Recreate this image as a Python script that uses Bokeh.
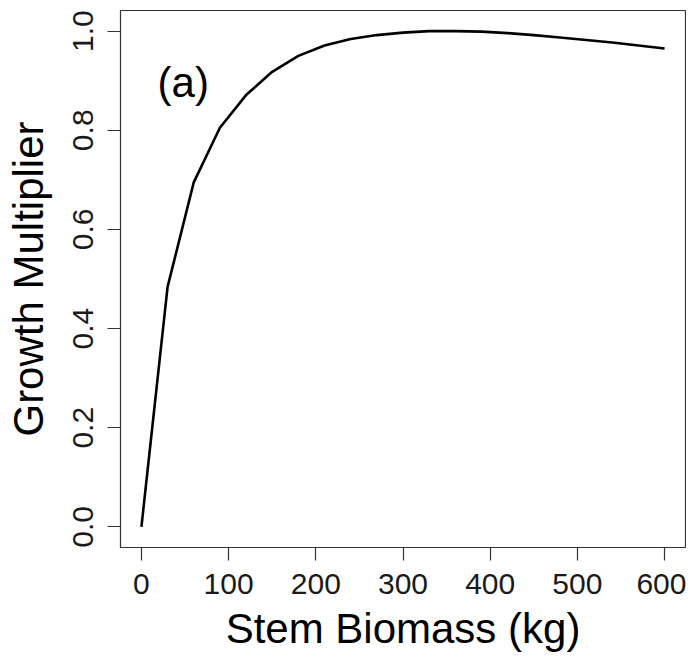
import math
from bokeh.plotting import figure
from bokeh.models import Range1d, FixedTicker, Label
from bokeh.embed import file_html
from bokeh.resources import INLINE

# Data
stem_biomass = [0, 30, 60, 90, 120, 150, 180, 210, 240, 270, 300,
                330, 360, 390, 420, 450, 480, 510, 540, 570, 600]
growth_multiplier = [0.0, 0.484, 0.695, 0.805, 0.871, 0.918, 0.950, 0.971,
                     0.984, 0.992, 0.997, 1.000, 1.000, 0.999, 0.996, 0.992,
                     0.987, 0.982, 0.977, 0.971, 0.965]
x_ticks = [0, 100, 200, 300, 400, 500, 600]
y_ticks = [0.0, 0.2, 0.4, 0.6, 0.8, 1.0]
y_tick_labels = {0.0: "0.0", 0.2: "0.2", 0.4: "0.4", 0.6: "0.6", 0.8: "0.8", 1.0: "1.0"}

FONT = "Liberation Sans"

p = figure(width=686, height=654, output_backend="svg", toolbar_location=None,
           x_range=Range1d(-24, 624), y_range=Range1d(-0.0416, 1.0416),
           min_border_left=120, min_border_right=1, min_border_top=10,
           min_border_bottom=103)
p.grid.visible = False
p.background_fill_color = "white"
p.border_fill_color = "white"
p.outline_line_color = "#333333"
p.outline_line_width = 1.2

p.line(stem_biomass, growth_multiplier, line_color="black", line_width=2.6)

for ax in (p.xaxis[0], p.yaxis[0]):
    ax.axis_line_color = None
    ax.major_tick_line_color = "#333333"
    ax.major_tick_line_width = 1.2
    ax.major_tick_out = 13
    ax.major_tick_in = 0
    ax.minor_tick_line_color = None
    ax.major_label_text_font = FONT
    ax.major_label_text_font_size = "30px"
    ax.major_label_text_color = "#1a1a1a"
    ax.axis_label_text_font = FONT
    ax.axis_label_text_font_size = "42px"
    ax.axis_label_text_font_style = "normal"
    ax.axis_label_text_color = "black"

p.xaxis.ticker = FixedTicker(ticks=x_ticks)
p.yaxis.ticker = FixedTicker(ticks=y_ticks)
p.yaxis.major_label_overrides = y_tick_labels
p.yaxis.major_label_orientation = "parallel"
p.xaxis.major_label_standoff = 13
p.yaxis.major_label_standoff = 14
p.xaxis.axis_label = "Stem Biomass (kg)"
p.yaxis.axis_label = "Growth Multiplier"
p.xaxis.axis_label_standoff = 8
p.yaxis.axis_label_standoff = 19

p.add_layout(Label(x=48, y=0.896, text="(a)", text_font=FONT,
                   text_font_size="42px", text_align="center",
                   text_baseline="middle", text_color="black"))

open("out.html", "w").write(file_html(p, INLINE))
